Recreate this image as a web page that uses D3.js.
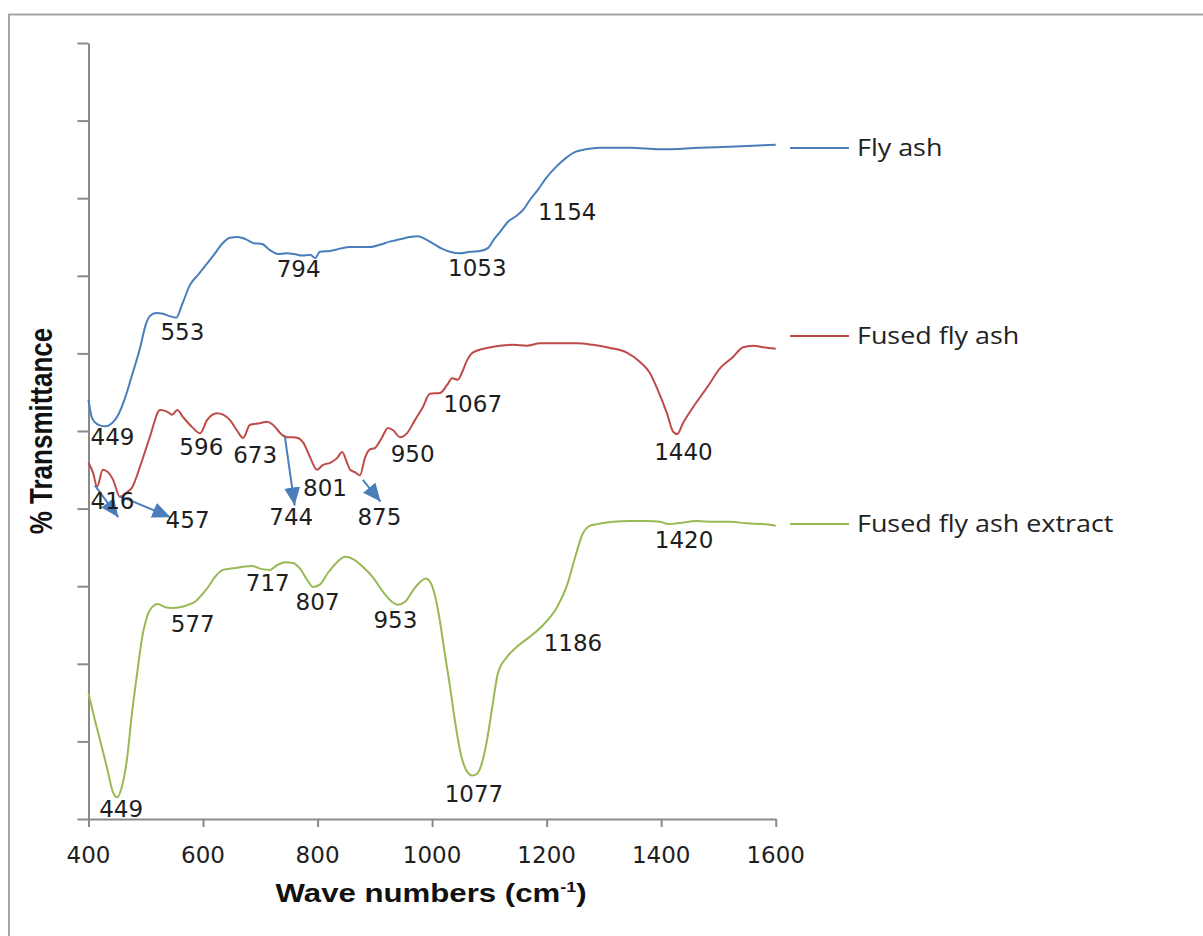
<!DOCTYPE html>
<html>
<head>
<meta charset="utf-8">
<script src="https://cdn.jsdelivr.net/npm/d3@7"></script>
<style>
  html, body { margin: 0; padding: 0; background: #fff; }
  svg { display: block; }
</style>
</head>
<body>
<svg id="chart" width="1203" height="936"></svg>
<script>
// FTIR spectra: [wavenumber (cm-1), % transmittance (arbitrary offset units)]
const flyAsh = [
  [400,54.0],[406,51.7],[415,50.9],[429,50.6],[441,51.0],[452,52.1],[464,54.3],[476,57.2],
  [490,60.7],[500,63.7],[507,64.8],[518,65.2],[530,65.1],[542,64.8],[553,64.6],[564,66.4],
  [577,68.8],[591,70.1],[605,71.4],[619,72.7],[633,74.1],[647,74.9],[661,75.0],[675,74.7],
  [689,74.2],[703,74.1],[717,73.3],[731,72.8],[745,72.9],[759,72.8],[773,72.6],[787,72.7],
  [796,72.3],[804,73.1],[822,73.2],[839,73.5],[857,73.7],[874,73.7],[892,73.7],[909,74.0],
  [926,74.4],[944,74.7],[961,75.0],[975,75.1],[989,74.7],[1003,74.1],[1017,73.5],[1031,73.1],
  [1049,72.9],[1066,73.1],[1084,73.2],[1098,73.6],[1108,74.7],[1119,75.7],[1133,77.0],[1147,77.7],
  [1161,78.7],[1171,79.8],[1185,81.1],[1199,82.6],[1216,84.0],[1234,85.2],[1251,86.0],[1268,86.3],
  [1293,86.5],[1345,86.5],[1398,86.3],[1467,86.5],[1540,86.7],[1600,86.9]
];

const fusedFlyAsh = [
  [400,45.9],[408,44.6],[415,42.8],[425,45.0],[434,44.7],[443,43.7],[455,41.5],[467,42.1],
  [476,42.7],[490,45.4],[507,49.2],[525,52.7],[537,52.5],[546,52.1],[555,52.7],[565,51.8],
  [581,50.5],[595,49.7],[607,51.4],[624,52.3],[635,52.1],[647,51.4],[659,50.1],[670,49.1],
  [682,50.8],[699,51.0],[712,51.2],[722,50.8],[738,49.5],[747,49.2],[757,49.2],[766,49.1],
  [775,48.5],[787,46.6],[799,45.0],[809,45.6],[822,45.9],[834,46.5],[843,47.3],[851,46.0],
  [857,45.0],[865,44.7],[874,44.3],[883,46.6],[891,47.6],[900,47.8],[912,49.1],[923,50.4],
  [932,50.1],[944,49.2],[956,49.7],[970,51.4],[984,53.1],[996,54.8],[1014,54.9],[1026,55.9],
  [1035,56.8],[1045,56.6],[1052,57.5],[1061,59.1],[1071,60.1],[1096,60.7],[1118,61.0],[1141,61.1],
  [1166,61.0],[1188,61.3],[1218,61.3],[1253,61.3],[1281,61.1],[1311,60.7],[1340,60.1],[1363,58.9],
  [1380,57.5],[1394,55.3],[1410,52.3],[1421,49.9],[1428,49.6],[1438,51.0],[1456,53.1],[1481,55.7],
  [1503,58.1],[1525,59.5],[1543,60.8],[1560,61.0],[1578,60.8],[1600,60.6]
];

const fusedExtract = [
  [400,16.2],[408,13.7],[420,10.2],[432,6.7],[443,3.4],[450,2.8],[458,4.1],[467,7.6],
  [476,13.7],[485,18.8],[493,23.1],[502,26.0],[511,27.3],[521,27.7],[534,27.3],[546,27.2],
  [560,27.3],[574,27.6],[586,28.0],[598,28.9],[609,29.9],[621,31.2],[635,32.1],[652,32.3],
  [670,32.5],[685,32.6],[703,32.2],[717,32.1],[729,32.7],[743,33.1],[757,33.0],[769,32.3],
  [782,30.8],[792,29.9],[804,30.2],[818,31.7],[834,33.1],[848,33.8],[862,33.5],[879,32.5],
  [897,31.1],[914,29.3],[930,28.0],[940,27.6],[953,28.0],[967,29.5],[980,30.6],[989,31.0],
  [997,30.5],[1005,28.8],[1013,25.8],[1022,21.4],[1031,17.2],[1040,12.6],[1050,8.4],[1062,6.0],
  [1070,5.6],[1078,5.8],[1087,7.2],[1096,10.2],[1105,14.4],[1115,18.8],[1131,20.9],[1148,22.2],
  [1171,23.5],[1194,25.0],[1218,27.3],[1236,30.2],[1250,33.8],[1262,36.6],[1276,37.8],[1288,38.0],
  [1316,38.3],[1346,38.4],[1375,38.4],[1398,38.3],[1412,38.0],[1428,38.1],[1463,38.4],[1491,38.3],
  [1520,38.3],[1550,38.1],[1578,38.0],[1600,37.8]
];

const seriesNames = ["Fly ash", "Fused fly ash", "Fused fly ash extract"];
const seriesColors = ["#4a7ebb", "#be4b48", "#98b954"];

const xTicks = [400, 600, 800, 1000, 1200, 1400, 1600];
const yTicks = [0, 10, 20, 30, 40, 50, 60, 70, 80, 90, 100];

// band labels: text, anchor wavenumber, anchor transmittance (text baseline)
const flyAshBands = [
  ["449", 442, 48.2], ["553", 564, 61.7], ["794", 767, 69.8],
  ["1053", 1079, 70.0], ["1154", 1236, 77.2]
];
const fusedBands = [
  ["596", 597, 46.9], ["673", 691, 45.9], ["801", 813, 41.6], ["950", 966, 46.0],
  ["1067", 1071, 52.4], ["1440", 1439, 46.3], ["416", 442, 39.9], ["457", 573, 37.5],
  ["744", 754, 37.9], ["875", 908, 37.9]
];
const extractBands = [
  ["577", 582, 24.1], ["717", 713, 29.4], ["807", 800, 26.9], ["953", 936, 24.6],
  ["1186", 1246, 21.6], ["1420", 1440, 34.9], ["1077", 1073, 2.2], ["449", 457, 0.3]
];

// pointer arrows for the weak fused fly ash bands: [from, to]
const bandArrows = [
  [[411, 43.0], [452, 38.9]],
  [[455, 41.6], [543, 38.9]],
  [[743, 49.2], [760, 40.4]],
  [[879, 43.7], [910, 40.9]]
];

const svg = d3.select("#chart");
const W = 1203, H = 936;
const SX = 1.2; // horizontal text stretch

const x = d3.scaleLinear().domain([400, 1600]).range([88.5, 775.7]);
const y = d3.scaleLinear().domain([0, 100]).range([819, 43]);

// outer frame (top and left edges)
svg.append("path")
  .attr("d", `M9,${H} L9,14.5 L${W},14.5`)
  .attr("fill", "none").attr("stroke", "#a6a6a6").attr("stroke-width", 2);

// axes
const axisColor = "#8a8a8a";
const yAxis = svg.append("g").attr("transform", `translate(${x(400)},0)`)
  .call(d3.axisLeft(y).tickValues(yTicks).tickSize(11).tickSizeOuter(0).tickFormat(""));
const xAxis = svg.append("g").attr("transform", `translate(0,${y(0)})`)
  .call(d3.axisBottom(x).tickValues(xTicks).tickSize(8).tickSizeOuter(0).tickFormat(""));
[yAxis, xAxis].forEach(a => {
  a.selectAll("path, line").attr("stroke", axisColor).attr("stroke-width", 2);
});

// x tick labels
svg.append("g").selectAll("text").data(xTicks).join("text")
  .attr("x", d => x(d)).attr("y", 863)
  .attr("text-anchor", "middle")
  .attr("font-family", "DejaVu Sans, Verdana, sans-serif")
  .attr("font-size", 23).attr("fill", "#1e1e1e")
  .text(d => d);

// axis titles
const xt = svg.append("text")
  .attr("transform", `translate(${(x(400) + x(1600)) / 2 - 1},902) scale(${SX},1)`)
  .attr("text-anchor", "middle")
  .attr("font-family", "Liberation Sans, Arial, sans-serif")
  .attr("font-weight", "bold").attr("font-size", 26).attr("fill", "#111");
xt.append("tspan").text("Wave numbers (cm");
xt.append("tspan").attr("dy", -10).attr("font-size", 15).text("-1");
xt.append("tspan").attr("dy", 10).text(")");

svg.append("text")
  .attr("transform", `translate(52,${(y(0) + y(100)) / 2}) scale(${SX},1) rotate(-90)`)
  .attr("text-anchor", "middle")
  .attr("font-family", "Liberation Sans, Arial, sans-serif")
  .attr("font-weight", "bold").attr("font-size", 26).attr("fill", "#111")
  .text("% Transmittance");

// spectra
const line = d3.line().x(d => x(d[0])).y(d => y(d[1])).curve(d3.curveMonotoneX);
const spectra = [flyAsh, fusedFlyAsh, fusedExtract];
svg.append("g").selectAll("path").data(spectra).join("path")
  .attr("d", line)
  .attr("fill", "none")
  .attr("stroke", (d, i) => seriesColors[i])
  .attr("stroke-width", 2)
  .attr("stroke-linejoin", "round");

// arrows
svg.append("defs").append("marker")
  .attr("id", "head").attr("markerUnits", "userSpaceOnUse")
  .attr("markerWidth", 20).attr("markerHeight", 17)
  .attr("refX", 18).attr("refY", 8).attr("orient", "auto")
  .append("path").attr("d", "M0,0 L18,8 L0,16 Z").attr("fill", "#4a7ebb");
svg.append("g").selectAll("line").data(bandArrows).join("line")
  .attr("x1", d => x(d[0][0])).attr("y1", d => y(d[0][1]))
  .attr("x2", d => x(d[1][0])).attr("y2", d => y(d[1][1]))
  .attr("stroke", "#4a7ebb").attr("stroke-width", 2)
  .attr("marker-end", "url(#head)");

// band labels
svg.append("g").selectAll("text").data([...flyAshBands, ...fusedBands, ...extractBands]).join("text")
  .attr("x", d => x(d[1])).attr("y", d => y(d[2]))
  .attr("text-anchor", "middle")
  .attr("font-family", "DejaVu Sans, Verdana, sans-serif")
  .attr("font-size", 23).attr("fill", "#1e1e1e")
  .text(d => d[0]);

// legend
const legendY = [148, 336, 524];
const lg = svg.append("g").selectAll("g").data(seriesNames).join("g")
  .attr("transform", (d, i) => `translate(790,${legendY[i]})`);
lg.append("line").attr("x1", 0).attr("x2", 59).attr("y1", 0).attr("y2", 0)
  .attr("stroke", (d, i) => seriesColors[i]).attr("stroke-width", 2);
lg.append("text")
  .attr("transform", `translate(67,0) scale(1.17,1)`)
  .attr("dy", "0.35em")
  .attr("font-family", "Open Sans, Noto Sans, sans-serif")
  .attr("font-size", 23).attr("fill", "#222")
  .text(d => d);
</script>
</body>
</html>
